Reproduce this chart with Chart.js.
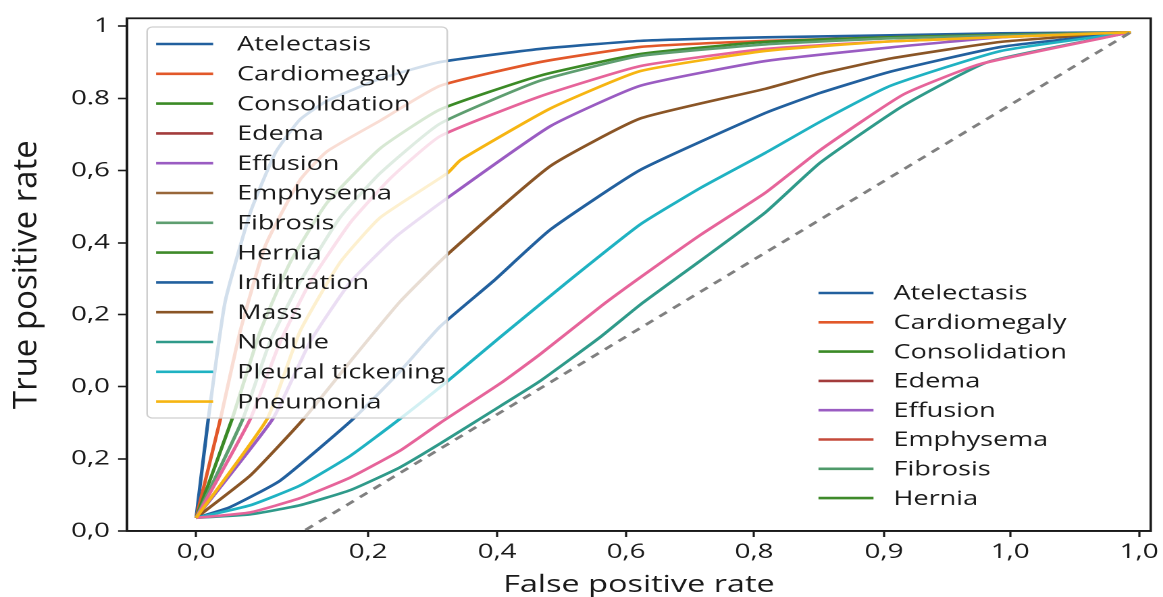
<!DOCTYPE html>
<html>
<head>
<meta charset="utf-8">
<title>ROC curves</title>
<script src="https://cdn.jsdelivr.net/npm/chart.js@4.4.1/dist/chart.umd.min.js"></script>
<style>
  html, body { margin:0; padding:0; background:#fff; overflow:hidden; }
  #wrap { position:absolute; left:0; top:0; height:597px; transform-origin:0 0; }
</style>
</head>
<body>
<div id="wrap"><canvas id="roc"></canvas></div>
<script>
// the source figure is stretched sideways, so draw it narrower and scale it back in x
const SX = 1.35;
const W = 1163 / SX;

const xTickPos = [0, 0.184, 0.322, 0.460, 0.597, 0.736, 0.871, 1.009];
const xTickLabels = ['0,0', '0,2', '0,4', '0,6', '0,8', '0,9', '1,0', '1,0'];
const yTickPos = [0, 0.143, 0.286, 0.429, 0.571, 0.714, 0.857, 1.0];
const yTickLabels = ['0,0', '0,2', '0,0', '0,2', '0,4', '0,6', '0.8', '1'];

// one fpr / tpr pair per curve
const atelectasisFpr = [0, 0.013, 0.031, 0.058, 0.085, 0.111, 0.140, 0.197, 0.261, 0.368, 0.475, 0.609, 0.743, 0.861, 1.0];
const atelectasisTpr = [0.026, 0.222, 0.454, 0.631, 0.750, 0.815, 0.852, 0.896, 0.929, 0.955, 0.971, 0.978, 0.982, 0.986, 0.988];
const cardioFpr = [0, 0.026, 0.047, 0.074, 0.111, 0.140, 0.197, 0.261, 0.368, 0.475, 0.609, 0.743, 1.0];
const cardioTpr = [0.026, 0.222, 0.395, 0.565, 0.695, 0.752, 0.813, 0.882, 0.929, 0.959, 0.971, 0.978, 0.988];
const consolFpr = [0, 0.0385, 0.0685, 0.1006, 0.140, 0.197, 0.261, 0.368, 0.475, 0.609, 0.743, 1.0];
const consolTpr = [0.026, 0.222, 0.395, 0.532, 0.650, 0.758, 0.835, 0.902, 0.945, 0.969, 0.978, 0.988];
const fibrosisFpr = [0, 0.050, 0.079, 0.111, 0.154, 0.197, 0.261, 0.368, 0.475, 0.609, 0.743, 1.0];
const fibrosisTpr = [0.026, 0.222, 0.375, 0.493, 0.621, 0.709, 0.807, 0.892, 0.941, 0.964, 0.976, 0.988];
const pinkHighFpr = [0, 0.058, 0.090, 0.122, 0.165, 0.208, 0.261, 0.368, 0.475, 0.609, 0.743, 1.0];
const pinkHighTpr = [0.026, 0.222, 0.375, 0.493, 0.611, 0.699, 0.782, 0.861, 0.921, 0.955, 0.970, 0.988];
const effusionFpr = [0, 0.082, 0.122, 0.165, 0.213, 0.269, 0.379, 0.475, 0.609, 0.743, 0.861, 1.0];
const effusionTpr = [0.026, 0.222, 0.375, 0.493, 0.582, 0.660, 0.802, 0.882, 0.931, 0.958, 0.978, 0.988];
const massFpr = [0, 0.058, 0.115, 0.165, 0.218, 0.269, 0.379, 0.475, 0.609, 0.668, 0.743, 0.861, 1.0];
const massTpr = [0.026, 0.110, 0.222, 0.336, 0.454, 0.548, 0.723, 0.817, 0.876, 0.906, 0.936, 0.969, 0.988];
const infiltrFpr = [0, 0.036, 0.090, 0.168, 0.218, 0.261, 0.318, 0.379, 0.475, 0.609, 0.668, 0.743, 0.861, 1.0];
const infiltrTpr = [0.026, 0.047, 0.100, 0.222, 0.316, 0.405, 0.495, 0.597, 0.715, 0.828, 0.868, 0.910, 0.959, 0.988];
const noduleFpr = [0, 0.058, 0.111, 0.165, 0.218, 0.261, 0.326, 0.368, 0.433, 0.475, 0.540, 0.609, 0.668, 0.757, 0.847, 1.0];
const noduleTpr = [0.026, 0.033, 0.051, 0.081, 0.126, 0.173, 0.248, 0.297, 0.385, 0.448, 0.536, 0.631, 0.730, 0.843, 0.929, 0.988];
const pleuralFpr = [0, 0.058, 0.111, 0.165, 0.218, 0.269, 0.326, 0.397, 0.475, 0.540, 0.609, 0.668, 0.743, 0.861, 1.0];
const pleuralTpr = [0.026, 0.051, 0.090, 0.149, 0.222, 0.297, 0.385, 0.493, 0.607, 0.680, 0.749, 0.811, 0.882, 0.951, 0.988];
const pinkLowFpr = [0, 0.058, 0.111, 0.165, 0.218, 0.261, 0.326, 0.368, 0.433, 0.475, 0.540, 0.609, 0.668, 0.757, 0.839, 1.0];
const pinkLowTpr = [0.026, 0.037, 0.065, 0.106, 0.159, 0.214, 0.293, 0.350, 0.445, 0.502, 0.587, 0.670, 0.755, 0.865, 0.925, 0.988];
const pneumoniaFpr = [0, 0.076, 0.111, 0.154, 0.197, 0.269, 0.283, 0.379, 0.475, 0.609, 0.743, 1.0];
const pneumoniaTpr = [0.026, 0.222, 0.395, 0.532, 0.621, 0.709, 0.735, 0.837, 0.911, 0.951, 0.970, 0.988];
const chanceFpr = [0.117, 1.0];
const chanceTpr = [0.002, 0.988];

const legend1Labels = ['Atelectasis', 'Cardiomegaly', 'Consolidation', 'Edema', 'Effusion', 'Emphysema', 'Fibrosis', 'Hernia', 'Infiltration', 'Mass', 'Nodule', 'Pleural tickening', 'Pneumonia'];
const legend1Colors = ['#22609e', '#e2582a', '#3b8a26', '#a33c3c', '#9a5cc2', '#98673a', '#5e9e70', '#3f8a2a', '#22609e', '#8a5526', '#2f9a8a', '#1fb2c2', '#f6b512'];
const legend2Labels = ['Atelectasis', 'Cardiomegaly', 'Consolidation', 'Edema', 'Effusion', 'Emphysema', 'Fibrosis', 'Hernia'];
const legend2Colors = ['#22609e', '#e2582a', '#3b8a26', '#a33c3c', '#9a5cc2', '#c44a3a', '#4f9a6a', '#3f8a2a'];

// drawn in this order, last one on top
const curves = [
  { label: 'Atelectasis', color: '#22609e', fpr: atelectasisFpr, tpr: atelectasisTpr },
  { label: 'Cardiomegaly', color: '#e2582a', fpr: cardioFpr, tpr: cardioTpr },
  { label: 'Consolidation', color: '#3b8a26', fpr: consolFpr, tpr: consolTpr },
  { label: 'Fibrosis', color: '#5e9e70', fpr: fibrosisFpr, tpr: fibrosisTpr },
  { label: 'pink upper', color: '#e6649a', fpr: pinkHighFpr, tpr: pinkHighTpr },
  { label: 'Effusion', color: '#9a5cc2', fpr: effusionFpr, tpr: effusionTpr },
  { label: 'Mass', color: '#8a5526', fpr: massFpr, tpr: massTpr },
  { label: 'Infiltration', color: '#22609e', fpr: infiltrFpr, tpr: infiltrTpr },
  { label: 'Nodule', color: '#2f9a8a', fpr: noduleFpr, tpr: noduleTpr },
  { label: 'Pleural tickening', color: '#1fb2c2', fpr: pleuralFpr, tpr: pleuralTpr },
  { label: 'pink lower', color: '#e6649a', fpr: pinkLowFpr, tpr: pinkLowTpr },
  { label: 'Pneumonia', color: '#f6b512', fpr: pneumoniaFpr, tpr: pneumoniaTpr },
];

const FONT = '"Open Sans", "DejaVu Sans", sans-serif';
const INK = '#1a1a1a';

const datasets = curves.map((c, i) => ({
  label: c.label,
  data: c.fpr.map((x, k) => ({ x, y: c.tpr[k] })),
  borderColor: c.color,
  borderWidth: 2.6,
  pointRadius: 0,
  fill: false,
  tension: 0.15,
  order: curves.length - i + 1
}));
datasets.push({
  label: 'chance',
  data: chanceFpr.map((x, k) => ({ x, y: chanceTpr[k] })),
  borderColor: '#808080',
  borderWidth: 2.6,
  borderDash: [7, 6],
  pointRadius: 0,
  fill: false,
  order: 1
});

// legend boxes, in canvas units (x already divided by SX)
const L1 = { x: 147 / SX, y: 27, w: 300 / SX, h: 391, lineX0: 156 / SX, lineX1: 213 / SX, textX: 237 / SX, rowY: 44, step: 29.8 };
const L2 = { lineX0: 818 / SX, lineX1: 873 / SX, textX: 893 / SX, rowY: 293, step: 29.3 };

function drawRows(ctx, box, labels, colors){
  labels.forEach((lab, i) => {
    const y = box.rowY + i * box.step;
    ctx.strokeStyle = colors[i];
    ctx.lineWidth = 2.6;
    ctx.beginPath();
    ctx.moveTo(box.lineX0, y);
    ctx.lineTo(box.lineX1, y);
    ctx.stroke();
    ctx.fillStyle = INK;
    ctx.fillText(lab, box.textX, y + 1);
  });
}

const legendsPlugin = {
  id: 'legends',
  afterDatasetsDraw(chart){
    const ctx = chart.ctx;
    ctx.save();
    ctx.beginPath();
    ctx.roundRect(L1.x, L1.y, L1.w, L1.h, 4);
    ctx.fillStyle = 'rgba(255,255,255,0.8)';
    ctx.fill();
    ctx.strokeStyle = '#cfcfcf';
    ctx.lineWidth = 1.2;
    ctx.stroke();
    ctx.font = '20px ' + FONT;
    ctx.textBaseline = 'middle';
    ctx.textAlign = 'left';
    drawRows(ctx, L1, legend1Labels, legend1Colors);
    drawRows(ctx, L2, legend2Labels, legend2Colors);
    ctx.restore();
  },
  afterDraw(chart){
    const { ctx, chartArea: a } = chart;
    ctx.save();
    ctx.strokeStyle = INK;
    ctx.lineWidth = 1.8;
    ctx.strokeRect(a.left, a.top, a.right - a.left, a.bottom - a.top);
    // y title: the source kept this one unstretched, so undo the page stretch
    ctx.translate(27 / SX, (a.top + a.bottom) / 2);
    ctx.scale(1 / SX, 1);
    ctx.rotate(-Math.PI / 2);
    ctx.font = '33px ' + FONT;
    ctx.fillStyle = INK;
    ctx.textAlign = 'center';
    ctx.textBaseline = 'middle';
    ctx.fillText('True positive rate', 0, 0);
    ctx.restore();
  }
};

document.addEventListener('DOMContentLoaded', () => {
  const wrap = document.getElementById('wrap');
  wrap.style.width = W + 'px';
  wrap.style.transform = 'scaleX(' + SX + ')';

  new Chart(document.getElementById('roc').getContext('2d'), {
    type: 'line',
    data: { datasets },
    plugins: [legendsPlugin],
    options: {
      responsive: true,
      maintainAspectRatio: false,
      animation: false,
      devicePixelRatio: 2,
      layout: { padding: { left: 0, top: 14, right: 13 / SX, bottom: 0 } },
      plugins: { legend: { display: false }, tooltip: { enabled: false } },
      scales: {
        x: {
          type: 'linear',
          min: -0.0739,
          max: 1.0214,
          afterBuildTicks: s => { s.ticks = xTickPos.map(v => ({ value: v })); },
          afterFit: s => { s.height = 66; },
          ticks: {
            autoSkip: false, maxRotation: 0, padding: 3, color: INK,
            font: { family: FONT, size: 20.5 },
            callback: (v, i) => xTickLabels[i]
          },
          grid: { drawOnChartArea: false, drawTicks: true, tickLength: 6, tickColor: INK, tickWidth: 1.6 },
          border: { display: true, color: INK, width: 1.8 },
          title: { display: true, text: 'False positive rate', color: INK, padding: 0,
                   font: { family: FONT, size: 24, lineHeight: 1.0 } }
        },
        y: {
          type: 'linear',
          min: 0,
          max: 1.0157,
          afterBuildTicks: s => { s.ticks = yTickPos.map(v => ({ value: v })); },
          afterFit: s => { s.width = 127 / SX; },
          ticks: {
            autoSkip: false, padding: 6, color: INK,
            font: { family: FONT, size: 20.5 },
            callback: (v, i) => yTickLabels[i]
          },
          grid: { drawOnChartArea: false, drawTicks: true, tickLength: 9 / SX, tickColor: INK, tickWidth: 1.6 },
          border: { display: true, color: INK, width: 1.8 }
        }
      }
    }
  });
});
</script>
</body>
</html>
